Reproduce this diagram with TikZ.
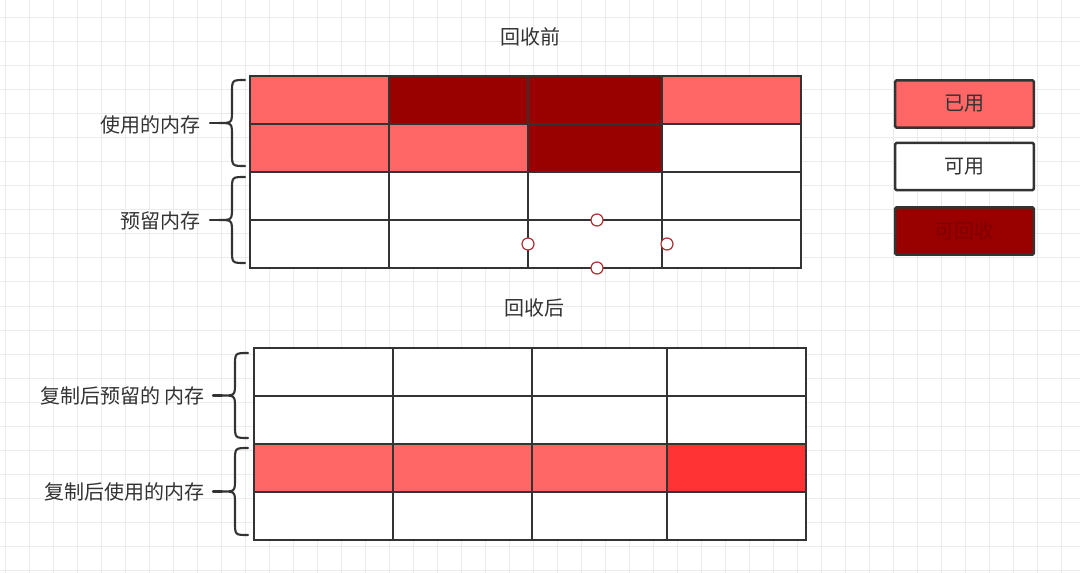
\documentclass[tikz,border=0pt]{standalone}
\usepackage{fontspec}
\setmainfont{Noto Sans CJK SC}
\definecolor{lred}{HTML}{FF6666}
\definecolor{dred}{HTML}{990000}
\definecolor{bred}{HTML}{FF3333}
\definecolor{ink}{HTML}{333333}
\definecolor{gridc}{HTML}{EBEBEB}
\definecolor{hred}{HTML}{A83232}
\definecolor{dtext}{HTML}{800000}
\newcommand\mybrace[3]{%
  \pgfmathsetmacro\ym{(#2+#3)/2}%
  \draw[bracestyle] (#1+13,#2) .. controls (#1,#2) .. (#1,#2+13) -- (#1,\ym-13)
     .. controls (#1,\ym) .. (#1-13,\ym) .. controls (#1,\ym) .. (#1,\ym+13)
     -- (#1,#3-13) .. controls (#1,#3) .. (#1+13,#3);
  \draw[bracestyle] (#1-13,\ym) -- (#1-22,\ym);
}
\begin{document}
\begin{tikzpicture}[x=0.75pt,y=-0.75pt,
  gridline/.style={draw=gridc,line width=0.75pt},
  tbl/.style={draw=ink,line width=1.9pt},
  bracestyle/.style={draw=ink,line width=1.6pt,line cap=round},
  lbl/.style={font=\fontsize{15}{18}\selectfont,text=ink,inner sep=0pt},
  legbox/.style={draw=ink,line width=1.9pt,rounded corners=1pt,minimum width=104pt,minimum height=35.5pt,font=\fontsize{15}{18}\selectfont,text=ink},
  handle/.style={circle,draw=hred,fill=white,line width=0.9pt,minimum size=9pt,inner sep=0pt}]
\path[use as bounding box,fill=white] (0,0) rectangle (1080,573);
% background grid
\foreach \i in {0,...,44} \draw[gridline] ({5+24*\i},0) -- ({5+24*\i},573);
\foreach \j in {0,...,23} \draw[gridline] (0,{18+24*\j}) -- (1080,{18+24*\j});
% titles
\node[lbl] (t1) at (530,37) {回收前};
\node[lbl] (t2) at (534,308) {回收后};
% top table fills
\fill[lred] (250,76) rectangle (389,124);
\fill[dred] (389,76) rectangle (528,124);
\fill[dred] (528,76) rectangle (662,124);
\fill[lred] (662,76) rectangle (801,124);
\fill[lred] (250,124) rectangle (389,172);
\fill[lred] (389,124) rectangle (528,172);
\fill[dred] (528,124) rectangle (662,172);
\fill[white] (662,124) rectangle (801,172);
\fill[white] (250,172) rectangle (801,268);
% top table lines
\draw[tbl] (250,76) rectangle (801,268);
\foreach \y in {124,172,220} \draw[tbl] (250,\y) -- (801,\y);
\foreach \x in {389,528,662} \draw[tbl] (\x,76) -- (\x,268);
% handles
\node[handle] (h1) at (597,220) {};
\node[handle] (h2) at (528,244) {};
\node[handle] (h3) at (667,244) {};
\node[handle] (h4) at (597,268) {};
% bottom table fills
\fill[white] (254,348) rectangle (806,444);
\fill[lred] (254,444) rectangle (667,492);
\fill[bred] (667,444) rectangle (806,492);
\fill[white] (254,492) rectangle (806,540);
\draw[tbl] (254,348) rectangle (806,540);
\foreach \y in {396,444,492} \draw[tbl] (254,\y) -- (806,\y);
\foreach \x in {393,532,667} \draw[tbl] (\x,348) -- (\x,540);
% braces and labels
\mybrace{232}{80}{166}
\mybrace{232}{177}{263}
\mybrace{235}{353}{438}
\mybrace{235}{448}{535}
\node[lbl,anchor=east] (l1) at (201,125) {使用的内存};
\node[lbl,anchor=east] (l2) at (201,221) {预留内存};
\node[lbl,anchor=east] (l3) at (205,396) {复制后预留的 内存};
\node[lbl,anchor=east] (l4) at (205,492) {复制后使用的内存};
% legend
\node[legbox,fill=lred] (g1) at (964.5,104) {已用};
\node[legbox,fill=white] (g2) at (964.5,166.5) {可用};
\node[legbox,fill=dred,text=dtext] (g3) at (964.5,231) {可回收};
\end{tikzpicture}
\end{document}
